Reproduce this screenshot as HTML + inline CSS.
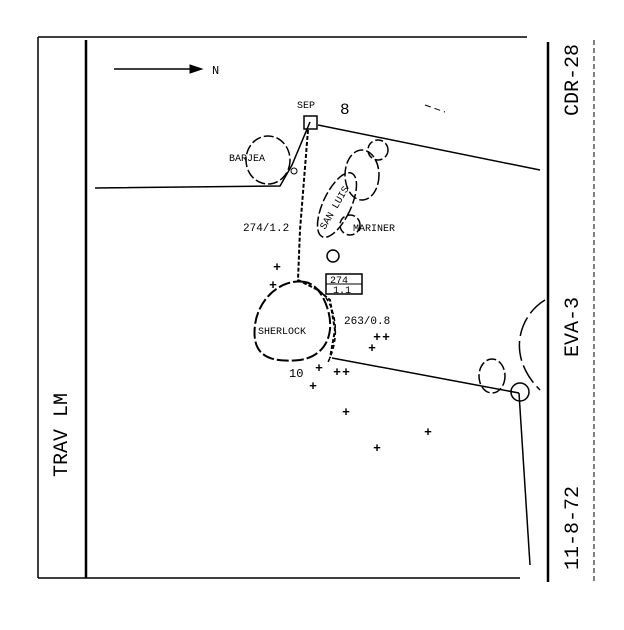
<!DOCTYPE html>
<html><head><style>body{margin:0;background:#fff}svg{display:block}</style></head><body>
<svg width="624" height="630" viewBox="0 0 624 630" xmlns="http://www.w3.org/2000/svg" font-family="Liberation Mono, monospace" fill="none" stroke="#000">
<line x1="38" y1="37" x2="527" y2="37" stroke-width="1.5"/>
<line x1="38" y1="37" x2="38" y2="578" stroke-width="1.5"/>
<line x1="38" y1="578" x2="520" y2="578" stroke-width="1.5"/>
<line x1="86" y1="40" x2="86" y2="578" stroke-width="2.5"/>
<line x1="548" y1="42" x2="548" y2="582" stroke-width="2.5"/>
<line x1="594" y1="40" x2="594" y2="582" stroke-width="1" stroke-dasharray="5,3"/>
<g fill="#000" stroke="none" font-size="20">
<text transform="translate(67,435) rotate(-90)" text-anchor="middle">TRAV LM</text>
<text transform="translate(578,80) rotate(-90)" text-anchor="middle">CDR-28</text>
<text transform="translate(578,327) rotate(-90)" text-anchor="middle">EVA-3</text>
<text transform="translate(578,528) rotate(-90)" text-anchor="middle">11-8-72</text>
</g>
<line x1="114" y1="69" x2="200" y2="69" stroke-width="1.5"/>
<path d="M190,65 L202,69 L190,73 Z" fill="#000"/>
<text x="212" y="74" fill="#000" stroke="none" font-size="12">N</text>
<polyline points="95,188 280,186 292,165 310,122" stroke-width="1.5"/>
<line x1="318" y1="125" x2="540" y2="170" stroke-width="1.5"/>
<line x1="332" y1="358" x2="519" y2="393" stroke-width="1.5"/>
<line x1="519" y1="393" x2="530" y2="565" stroke-width="1.5"/>
<polyline points="308,130 304,180 300,230 298,280 318,290 330,300 335,330 330,358" stroke-width="2" stroke-dasharray="4,2"/>
<rect x="304" y="116" width="13" height="13" stroke-width="1.5"/>
<text x="297" y="108" fill="#000" stroke="none" font-size="10">SEP</text>
<ellipse cx="268" cy="160" rx="22" ry="24" stroke-width="1.5" stroke-dasharray="10,3"/>
<circle cx="294" cy="171" r="3"/>
<text x="229" y="161" fill="#000" stroke="none" font-size="10">BARJEA</text>
<ellipse cx="337" cy="205" rx="14" ry="35" transform="rotate(25 337 205)" stroke-width="1.5" stroke-dasharray="10,3"/>
<ellipse cx="362" cy="175" rx="17" ry="25" stroke-width="1.5" stroke-dasharray="10,3"/>
<circle cx="378" cy="150" r="10" stroke-width="1.5" stroke-dasharray="8,3"/>
<text x="340" y="114" fill="#000" stroke="none" font-size="16">8</text>
<circle cx="350" cy="225" r="10" stroke-width="1.5" stroke-dasharray="8,3"/>
<circle cx="333" cy="256" r="6" stroke-width="1.5"/>
<text transform="translate(325,230) rotate(-60)" fill="#000" stroke="none" font-size="10">SAN LUIS</text>
<text x="353" y="231" fill="#000" stroke="none" font-size="10">MARINER</text>
<text x="243" y="231" fill="#000" stroke="none" font-size="11">274/1.2</text>
<rect x="326" y="274" width="36" height="20" stroke-width="1.5"/>
<line x1="326" y1="284" x2="362" y2="284"/>
<text x="330" y="283" fill="#000" stroke="none" font-size="10">274</text>
<text x="333" y="293" fill="#000" stroke="none" font-size="10">1.1</text>
<path d="M305,282 C280,278 258,300 255,325 C252,350 262,364 300,360 C325,356 335,335 328,310 C322,290 312,283 305,282 Z" stroke-width="2" stroke-dasharray="12,3"/>
<path d="M316,288 C335,300 342,335 328,362" stroke-width="1.5" stroke-dasharray="4,3"/>
<text x="258" y="334" fill="#000" stroke="none" font-size="10">SHERLOCK</text>
<text x="344" y="324" fill="#000" stroke="none" font-size="11">263/0.8</text>
<text x="289" y="377" fill="#000" stroke="none" font-size="12">10</text>
<ellipse cx="492" cy="376" rx="13" ry="17" stroke-width="1.5" stroke-dasharray="10,3"/>
<circle cx="520" cy="392" r="9" stroke-width="1.5"/>
<path d="M545,300 C520,315 505,355 540,390" stroke-width="1.5" stroke-dasharray="20,5"/>
<line x1="425" y1="105" x2="445" y2="112" stroke-dasharray="6,4"/>
<g fill="#000" stroke="none" font-size="13" font-weight="bold" text-anchor="middle">
<text x="277" y="271">+</text><text x="273" y="289">+</text>
<text x="377" y="341">+</text><text x="386" y="341">+</text><text x="372" y="352">+</text>
<text x="319" y="372">+</text><text x="337" y="376">+</text><text x="346" y="376">+</text>
<text x="313" y="390">+</text><text x="346" y="416">+</text><text x="428" y="436">+</text><text x="377" y="452">+</text>
</g>
</svg>
</body></html>
